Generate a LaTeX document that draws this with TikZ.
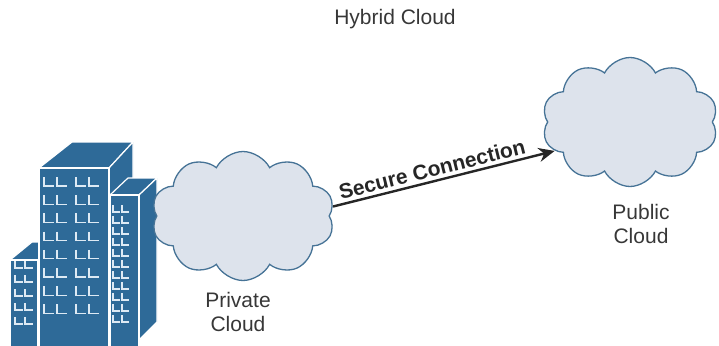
\documentclass[tikz,border=0pt]{standalone}
\usepackage{fontspec}
\setmainfont{Liberation Sans}
\usepackage{tikz}
\usetikzlibrary{shapes.symbols, arrows.meta, positioning}
\definecolor{bldgblue}{RGB}{46,106,152}
\definecolor{winline}{RGB}{222,234,244}
\definecolor{cloudfill}{RGB}{221,227,236}
\definecolor{cloudedge}{RGB}{70,115,150}
\definecolor{labelgray}{RGB}{55,55,55}
\tikzstyle{arrow} = [line width=2.4pt,-{Stealth[length=16pt,width=14pt]},draw=black!85]
\tikzstyle{cloudbox} = [cloud, cloud puffs=10, cloud puff arc=125, cloud ignores aspect, draw=cloudedge, fill=cloudfill, line width=1.3pt]
\tikzstyle{label} = [text=labelgray, font=\fontsize{21}{24.5}\selectfont, align=center]
\tikzstyle{face} = [fill=bldgblue, draw=white, line width=1.2pt, line join=round]
\tikzstyle{window} = [draw=winline, line width=1.3pt]
% one window: a small L, corner at (#1,#2)
\newcommand\winL[4]{\draw [window] (#1,#2-#4) -- (#1,#2) -- (#1+#3,#2);}

\begin{document}
\begin{tikzpicture}[x=1pt, y=-1pt]
\useasboundingbox (0,0) rectangle (719,345);
%----------------------------------------------------------------------------
% Title
\node (title) [label] at (395,19) {Hybrid Cloud};

%----------------------------------------------------------------------------
% Office buildings (back to front)
% small building on the left
\draw [face] (10,260) -- (38,260) -- (60,242) -- (32,242) -- cycle;
\draw [face] (10,260) rectangle (38,347);
\foreach \row in {0,...,4} {
  \foreach \col in {15,25} {\winL{\col}{268+14*\row}{8}{7}}
}
% tall building in the middle
\draw [face] (39,168) -- (109,168) -- (133,142) -- (72,142) -- cycle;
\draw [face] (109,168) -- (133,142) -- (133,340) -- (109,347) -- cycle;
\draw [face] (39,168) rectangle (109,347);
\foreach \row in {0,...,7} {
  \foreach \col in {44,57,76,89} {\winL{\col}{186+18.2*\row}{10}{9}}
}
% narrow building on the right
\draw [face] (110,195) -- (139,195) -- (157,178) -- (128,178) -- cycle;
\draw [face] (139,195) -- (157,178) -- (157,322) -- (139,340) -- cycle;
\draw [face] (110,195) rectangle (139,347);
\foreach \row in {0,...,10} {
  \foreach \col in {113,122} {\winL{\col}{212+11*\row}{7}{7}}
}

%----------------------------------------------------------------------------
% Clouds and their labels
\node (privCloud) [cloudbox, minimum width=183pt, minimum height=129pt] at (243,216) {};
\node (privLabel) [label] at (238,312) {Private\\Cloud};

\node (pubCloud) [cloudbox, minimum width=176pt, minimum height=129pt] at (630,122) {};
\node (pubLabel) [label] at (641,224) {Public\\Cloud};

%----------------------------------------------------------------------------
% Link between the clouds
\draw [arrow] (privCloud.6) -- node[sloped, above, pos=0.46, text=black!85, font=\fontsize{21}{24}\selectfont\bfseries] {Secure Connection} (pubCloud.201);

\end{tikzpicture}
\end{document}
